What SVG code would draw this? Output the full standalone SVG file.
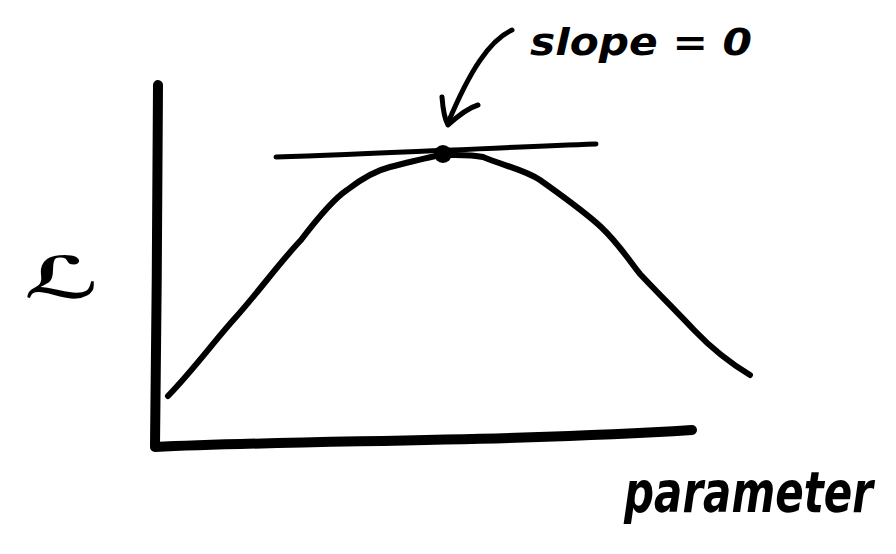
<svg xmlns="http://www.w3.org/2000/svg" width="896" height="554" viewBox="0 0 896 554">
<style>
.ink{fill:none;stroke:#000;stroke-linecap:round;stroke-linejoin:round}
.hand{font-family:"DejaVu Sans","Liberation Sans",sans-serif;font-weight:bold;font-style:italic;fill:#000}
</style>
<rect width="896" height="554" fill="#fff"/>
<g id="axes">
<path class="ink" stroke-width="10" d="M158,85 C158,200 156,330 155,447 C300,440 500,442 692,430"/>
</g>
<g id="curve">
<path class="ink" stroke-width="6" d="M168,396 C195,368 215,340 236,317 C260,290 280,262 301,240 C320,215 335,198 347,190 C365,176 378,170 390,167 C410,162 425,158 441,155 C455,155 470,154 483,157 C505,166 525,170 540,180 C565,198 585,212 601,227 C620,245 630,262 640,274 C655,290 675,310 694,330 C715,352 735,366 750,375"/>
</g>
<g id="tangent">
<path class="ink" stroke-width="5" d="M276,157 C380,154 480,148 596,144"/>
<circle cx="443" cy="154" r="9" fill="#000"/>
</g>
<g id="connectors">
<path class="ink" stroke-width="5" d="M512,30 C490,40 470,70 448,123"/>
<path class="ink" stroke-width="5" d="M442,97 C443,110 444,118 448,125 C460,114 468,108 478,105"/>
</g>
<g id="label-slope">
<text class="hand" x="530" y="55" font-size="38" textLength="222" lengthAdjust="spacingAndGlyphs">slope = 0</text>
</g>
<g id="label-L">
<text class="hand" x="24" y="298" font-size="58" textLength="76" lengthAdjust="spacingAndGlyphs">ℒ</text>
</g>
<g id="label-parameter">
<text class="hand" transform="translate(624,512) scale(1,1.35)" x="0" y="0" font-size="42">parameter</text>
</g>
</svg>
